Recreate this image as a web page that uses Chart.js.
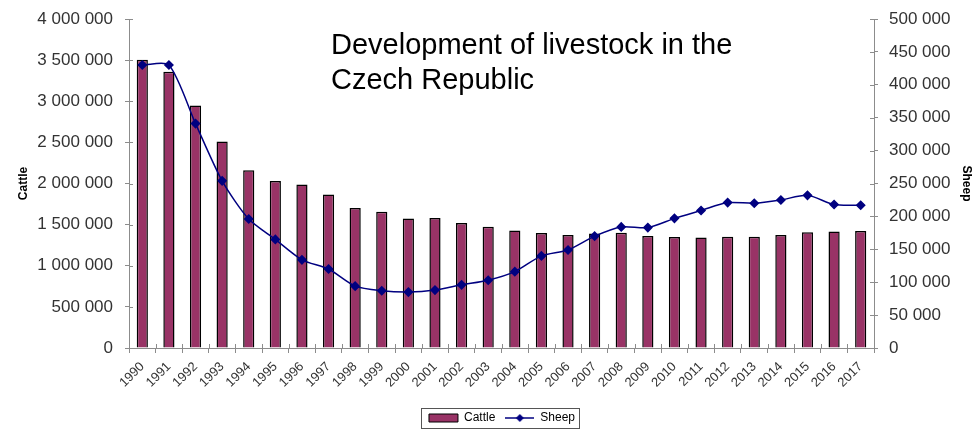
<!DOCTYPE html>
<html>
<head>
<meta charset="utf-8">
<script src="https://cdn.jsdelivr.net/npm/chart.js@4.4.1/dist/chart.umd.min.js"></script>
<style>
  html, body { margin: 0; padding: 0; background: #fff; }
  #wrap { width: 974px; height: 430px; }
</style>
</head>
<body>
<div id="wrap"><canvas id="myChart" width="974" height="430"></canvas></div>
<script>
var years = ['1990', '1991', '1992', '1993', '1994', '1995', '1996', '1997', '1998', '1999',
  '2000', '2001', '2002', '2003', '2004', '2005', '2006', '2007', '2008', '2009',
  '2010', '2011', '2012', '2013', '2014', '2015', '2016', '2017'];
var cattle = [3506000, 3360000, 2949000, 2512000, 2161000, 2030000, 1989000, 1866000, 1701000, 1657000,
  1574000, 1582000, 1520000, 1474000, 1428000, 1397000, 1374000, 1391000, 1402000, 1363000,
  1349000, 1344000, 1354000, 1353000, 1373000, 1407000, 1416000, 1421000];
var sheep = [430000, 430000, 341000, 254000, 196000, 165000, 134000, 120000, 94000, 87000,
  85000, 88000, 96000, 103000, 116000, 140000, 149000, 170000, 184000, 183000,
  197000, 209000, 221000, 220000, 225000, 232000, 218000, 217000];
var titleLines = ['Development of livestock in the', 'Czech Republic'];

var plum = '#993366';
var navy = '#000080';
var axisGrey = '#8c8c8c';
var labelColor = '#333333';
var fontFam = '"Liberation Sans", Arial, sans-serif';

function spaced(v) {
  return v.toString().replace(/\B(?=(\d{3})+(?!\d))/g, ' ');
}

// small picture for the Sheep legend entry: line with a diamond
var sheepIcon = document.createElement('canvas');
sheepIcon.width = 29;
sheepIcon.height = 10;
(function () {
  var c = sheepIcon.getContext('2d');
  c.strokeStyle = navy;
  c.lineWidth = 1.5;
  c.beginPath();
  c.moveTo(0, 5);
  c.lineTo(29, 5);
  c.stroke();
  c.fillStyle = navy;
  c.beginPath();
  c.moveTo(14.5, 1);
  c.lineTo(18.5, 5);
  c.lineTo(14.5, 9);
  c.lineTo(10.5, 5);
  c.closePath();
  c.fill();
})();

var extras = {
  id: 'extras',
  afterDraw: function (chart) {
    var ctx = chart.ctx;
    var area = chart.chartArea;
    ctx.save();
    // inner half of the tick marks
    ctx.strokeStyle = axisGrey;
    ctx.lineWidth = 1;
    var yL = chart.scales.y;
    yL.ticks.forEach(function (t, i) {
      var py = Math.round(yL.getPixelForTick(i)) + 0.5;
      ctx.beginPath(); ctx.moveTo(area.left, py); ctx.lineTo(area.left + 4, py); ctx.stroke();
    });
    var yR = chart.scales.y1;
    yR.ticks.forEach(function (t, i) {
      var py = Math.round(yR.getPixelForTick(i)) + 0.5;
      ctx.beginPath(); ctx.moveTo(area.right - 4, py); ctx.lineTo(area.right, py); ctx.stroke();
    });
    var step = (area.right - area.left) / years.length;
    for (var i = 0; i <= years.length; i++) {
      var px = Math.round(area.left + i * step) + 0.5;
      ctx.beginPath(); ctx.moveTo(px, area.bottom - 4); ctx.lineTo(px, area.bottom); ctx.stroke();
    }
    // title inside the plot
    ctx.fillStyle = '#000';
    ctx.font = '29px ' + fontFam;
    ctx.textBaseline = 'alphabetic';
    ctx.textAlign = 'left';
    ctx.fillText(titleLines[0], 331, 54);
    ctx.fillText(titleLines[1], 331, 89);
    // legend frame
    var boxes = chart.legend.legendHitBoxes;
    if (boxes && boxes.length) {
      var minX = Infinity, maxX = -Infinity, minY = Infinity, maxY = -Infinity;
      boxes.forEach(function (b) {
        minX = Math.min(minX, b.left); maxX = Math.max(maxX, b.left + b.width);
        minY = Math.min(minY, b.top); maxY = Math.max(maxY, b.top + b.height);
      });
      ctx.strokeStyle = '#555';
      ctx.strokeRect(Math.round(minX - 8) + 0.5, Math.round(minY - 4) + 0.5,
        Math.round(maxX - minX + 12), Math.round(maxY - minY + 8));
    }
    ctx.restore();
  }
};

function fitY(width) {
  return function (scale) {
    scale.width = width;
    scale.paddingTop = 19;
    scale.paddingBottom = 4;
  };
}

var ctx = document.getElementById('myChart').getContext('2d');
var myChart = new Chart(ctx, {
  data: {
    labels: years,
    datasets: [{
      type: 'line',
      label: 'Sheep',
      data: sheep,
      yAxisID: 'y1',
      borderColor: navy,
      backgroundColor: navy,
      borderWidth: 1.5,
      tension: 0.25,
      pointStyle: 'rectRot',
      pointRadius: 4,
      pointBackgroundColor: navy,
      pointBorderColor: navy,
      order: 0
    }, {
      type: 'bar',
      label: 'Cattle',
      data: cattle,
      yAxisID: 'y',
      backgroundColor: plum,
      borderColor: '#000',
      borderWidth: 1.5,
      categoryPercentage: 1,
      barPercentage: 0.42,
      order: 1
    }]
  },
  options: {
    responsive: false,
    animation: false,
    layout: { padding: { top: 0, left: 30, right: 0, bottom: -4 } },
    font: { family: fontFam },
    plugins: {
      tooltip: { enabled: false },
      legend: {
        position: 'bottom',
        reverse: true,
        labels: {
          usePointStyle: true,
          pointStyleWidth: 29,
          boxHeight: 8,
          padding: 10,
          color: '#000',
          font: { size: 12, family: fontFam },
          generateLabels: function (chart) {
            var items = Chart.defaults.plugins.legend.labels.generateLabels(chart);
            items.forEach(function (it) {
              if (it.text === 'Sheep') {
                it.pointStyle = sheepIcon;
              } else {
                it.pointStyle = 'rect';
                it.fillStyle = plum;
                it.strokeStyle = '#000';
                it.lineWidth = 1;
              }
            });
            return items;
          }
        }
      }
    },
    scales: {
      x: {
        offset: true,
        grid: { display: true, drawOnChartArea: false, offset: true, tickLength: 5, color: axisGrey },
        border: { color: axisGrey },
        ticks: {
          minRotation: 45, maxRotation: 45, autoSkip: false, padding: 6,
          color: labelColor,
          font: { size: 13, family: fontFam }
        },
        afterFit: function (scale) { scale.height = 54; }
      },
      y: {
        position: 'left',
        min: 0, max: 4000000,
        grid: { drawOnChartArea: false, tickLength: 4, color: axisGrey },
        border: { color: axisGrey },
        ticks: {
          stepSize: 500000, padding: 12, color: labelColor,
          font: { size: 17, family: fontFam },
          callback: function (v) { return spaced(v); }
        },
        title: {
          display: true, text: 'Cattle', color: '#000',
          font: { size: 12, weight: 'bold', family: fontFam },
          padding: { top: -14, bottom: 0 }
        },
        afterFit: fitY(99)
      },
      y1: {
        position: 'right',
        min: 0, max: 500000,
        grid: { drawOnChartArea: false, tickLength: 4, color: axisGrey },
        border: { color: axisGrey },
        ticks: {
          stepSize: 50000, padding: 11, color: labelColor,
          font: { size: 17, family: fontFam },
          callback: function (v) { return spaced(v); }
        },
        title: {
          display: true, text: 'Sheep', color: '#000',
          font: { size: 12, weight: 'bold', family: fontFam },
          padding: { top: 0, bottom: 4 }
        },
        afterFit: fitY(100)
      }
    }
  },
  plugins: [extras]
});
</script>
</body>
</html>
